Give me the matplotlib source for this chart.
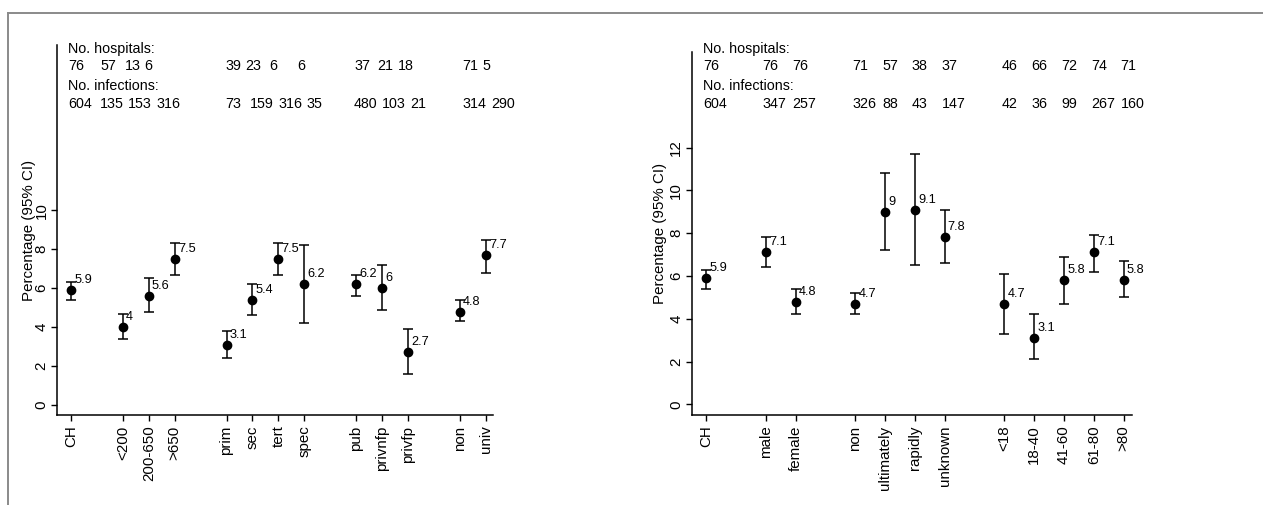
"""Infection percentages (95% CI) by hospital and patient characteristics, two panels."""
import matplotlib
matplotlib.use("Agg")
import matplotlib.pyplot as plt
from matplotlib.lines import Line2D
from matplotlib.transforms import blended_transform_factory

plt.rcParams["font.family"] = ["Liberation Sans", "DejaVu Sans"]

# --- left panel: hospital characteristics ---
cats_L = ["CH", "<200", "200-650", ">650", "prim", "sec", "tert", "spec",
          "pub", "privnfp", "privfp", "non", "univ"]
pos_L = [1, 3, 4, 5, 7, 8, 9, 10, 12, 13, 14, 16, 17]
est_L = [5.9, 4, 5.6, 7.5, 3.1, 5.4, 7.5, 6.2, 6.2, 6, 2.7, 4.8, 7.7]
lo_L = [5.4, 3.4, 4.8, 6.7, 2.4, 4.6, 6.7, 4.2, 5.6, 4.9, 1.6, 4.3, 6.8]
hi_L = [6.3, 4.7, 6.5, 8.3, 3.8, 6.2, 8.3, 8.2, 6.7, 7.2, 3.9, 5.4, 8.5]
hosp_L = [76, 57, 13, 6, 39, 23, 6, 6, 37, 21, 18, 71, 5]
inf_L = [604, 135, 153, 316, 73, 159, 316, 35, 480, 103, 21, 314, 290]
yticks_L = [0, 2, 4, 6, 8, 10]

# --- right panel: patient characteristics ---
cats_R = ["CH", "male", "female", "non", "ultimately", "rapidly", "unknown",
          "<18", "18-40", "41-60", "61-80", ">80"]
pos_R = [1, 3, 4, 6, 7, 8, 9, 11, 12, 13, 14, 15]
est_R = [5.9, 7.1, 4.8, 4.7, 9, 9.1, 7.8, 4.7, 3.1, 5.8, 7.1, 5.8]
lo_R = [5.4, 6.4, 4.2, 4.2, 7.2, 6.5, 6.6, 3.3, 2.1, 4.7, 6.2, 5.0]
hi_R = [6.3, 7.8, 5.4, 5.2, 10.8, 11.7, 9.1, 6.1, 4.2, 6.9, 7.9, 6.7]
hosp_R = [76, 76, 76, 71, 57, 38, 37, 46, 66, 72, 74, 71]
inf_R = [604, 347, 257, 326, 88, 43, 147, 42, 36, 99, 267, 160]
yticks_R = [0, 2, 4, 6, 8, 10, 12]

# x positions (data units, left-aligned) of the count rows; left panel strings are
# not aligned to the categories, right panel ones sit just left of each tick
hx_L = [0.88, 2.15, 3.08, 3.83, 6.94, 7.74, 8.63, 9.71, 11.93, 12.83, 13.61, 16.10, 16.86]
ix_L = [0.88, 2.12, 3.20, 4.28, 6.94, 7.91, 8.99, 10.07, 11.92, 13.00, 14.08, 16.12, 17.20]
hx_R = [p - 0.1 for p in pos_R]
ix_R = [p - 0.1 for p in pos_R]

W, H = 1263, 505
FS = 10.9     # axis text
FS_N = 10.3   # count block
ROWS_Y = [48.5, 66.5, 86, 104]  # pixel rows of the count block


def panel(fig, rect, cats, pos, est, lo, hi, hosp, inf, hx, ix, yticks,
          xlim, ylim, ylab_px):
    ax = fig.add_axes(rect)
    yerr = [[e - l for e, l in zip(est, lo)], [h - e for e, h in zip(est, hi)]]
    ax.errorbar(pos, est, yerr=yerr, fmt="o", color="black", ms=6.0,
                elinewidth=1.1, capsize=3.5, capthick=1.1)
    for x, y in zip(pos, est):
        ax.annotate(f"{y:g}", (x, y), xytext=(2.3, 7.2), textcoords="offset points",
                    ha="left", va="center", fontsize=9.2)
    ax.set_xlim(*xlim); ax.set_ylim(*ylim)
    ax.set_xticks(pos); ax.set_xticklabels(cats, rotation=90, fontsize=FS)
    ax.set_yticks(yticks)
    ax.set_yticklabels([str(t) for t in yticks], rotation=90, va="center", fontsize=FS)
    ax.tick_params(axis="x", length=4.4, width=1.0, pad=3.2)
    ax.tick_params(axis="y", length=4.4, width=1.0, pad=1.6)
    for s in ("top", "right"):
        ax.spines[s].set_visible(False)
    for s in ("left", "bottom"):
        ax.spines[s].set_linewidth(1.1)
    ax.set_ylabel("Percentage (95% CI)", fontsize=FS)
    ax.yaxis.set_label_coords(ylab_px / (rect[2] * W), 0.5)

    tr = blended_transform_factory(ax.transData, fig.transFigure)
    fy = [1 - p / H for p in ROWS_Y]
    ax.text(hx[0], fy[0], "No. hospitals:", transform=tr, ha="left", va="center", fontsize=FS_N)
    ax.text(ix[0], fy[2], "No. infections:", transform=tr, ha="left", va="center", fontsize=FS_N)
    for x, n in zip(hx, hosp):
        ax.text(x, fy[1], str(n), transform=tr, ha="left", va="center", fontsize=FS_N)
    for x, n in zip(ix, inf):
        ax.text(x, fy[3], str(n), transform=tr, ha="left", va="center", fontsize=FS_N)
    return ax


def main():
    fig = plt.figure(figsize=(W / 100, H / 100), dpi=100)
    # outer gray frame (top and left edges only)
    fig.add_artist(Line2D([8 / W, 8 / W], [0, 1 - 13 / H], transform=fig.transFigure,
                          color="#8a8a8a", lw=1.4))
    fig.add_artist(Line2D([8 / W, 1], [1 - 13 / H, 1 - 13 / H], transform=fig.transFigure,
                          color="#8a8a8a", lw=1.4))

    panel(fig, [57 / W, 90 / H, 436 / W, 370 / H], cats_L, pos_L, est_L, lo_L, hi_L,
          hosp_L, inf_L, hx_L, ix_L, yticks_L, (0.46, 17.28), (-0.51, 18.49), -21)
    panel(fig, [691.7 / W, 90 / H, 440.6 / W, 363.3 / H], cats_R, pos_R, est_R, lo_R, hi_R,
          hosp_R, inf_R, hx_R, ix_R, yticks_R, (0.52, 15.29), (-0.5, 16.48), -25)

    fig.savefig("out.png", dpi=100)


if __name__ == "__main__":
    main()
